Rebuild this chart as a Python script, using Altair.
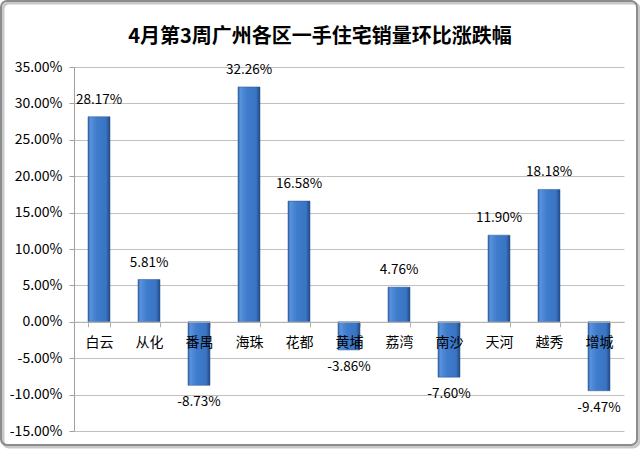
import altair as alt
import pandas as pd

districts = ["白云", "从化", "番禺", "海珠", "花都", "黄埔", "荔湾", "南沙", "天河", "越秀", "增城"]
changes = [28.17, 5.81, -8.73, 32.26, 16.58, -3.86, 4.76, -7.60, 11.90, 18.18, -9.47]
y_ticks = [-15, -10, -5, 0, 5, 10, 15, 20, 25, 30, 35]
title_text = "4月第3周广州各区一手住宅销量环比涨跌幅"

FONT = "Noto Sans CJK SC"

df = pd.DataFrame({"district": districts, "change": [v / 100 for v in changes]})

W, H = 550, 364

x_enc = alt.X(
    "district:N",
    sort=districts,
    scale=alt.Scale(paddingInner=0.56, paddingOuter=0.28),
    axis=alt.Axis(
        title=None, labelAngle=0, orient="bottom", offset=-109.2,
        domainColor="#b0b0b0", tickColor="#b0b0b0", tickBand="extent",
        tickSize=5, labelPadding=9, labelFontSize=14, labelFont=FONT,
        labelColor="#000000", zindex=1, grid=False,
    ),
)
y_enc = alt.Y(
    "change:Q",
    scale=alt.Scale(domain=[-0.15, 0.35], nice=False, zero=False),
    axis=alt.Axis(
        title=None, values=[v / 100 for v in y_ticks], tickCount=len(y_ticks) + 1,
        format=".2%",
        labelExpr="replace(datum.label, '\u2212', '-')",
        labelOverlap=False,
        grid=True, gridColor="#c0c0c0", domainColor="#a0a0a0",
        tickColor="#a0a0a0", tickSize=5, labelPadding=7,
        labelFontSize=14, labelFont=FONT, labelColor="#000000",
    ),
)

gradient = alt.Gradient(
    gradient="linear", x1=0, x2=1, y1=0, y2=0,
    stops=[
        alt.GradientStop(color="#2f62a8", offset=0),
        alt.GradientStop(color="#5a92dc", offset=0.1),
        alt.GradientStop(color="#3f7ccc", offset=0.4),
        alt.GradientStop(color="#3a74c2", offset=0.82),
        alt.GradientStop(color="#1f4a85", offset=1),
    ],
)

base = alt.Chart(df).transform_calculate(
    label="replace(format(datum.change, '.2%'), '\u2212', '-')"
)

frame_df = pd.DataFrame({"a": [0]})
shadow = alt.Chart(frame_df).mark_rect(
    fill="transparent", stroke="#c8c8c8", strokeWidth=3, cornerRadius=6
).encode(
    x=alt.value(-71), x2=alt.value(W + 15), y=alt.value(-64), y2=alt.value(H + 16)
)
frame = alt.Chart(frame_df).mark_rect(
    fill="transparent", stroke="#8c8c8c", strokeWidth=2, cornerRadius=6
).encode(
    x=alt.value(-73), x2=alt.value(W + 13), y=alt.value(-66), y2=alt.value(H + 14)
)
title = alt.Chart(pd.DataFrame({"t": [title_text]})).mark_text(
    fontSize=20, font=FONT, fontWeight="bold", color="#000000",
    baseline="middle", align="center",
).encode(x=alt.value(246), y=alt.value(-30), text="t:N")

bars = base.mark_bar(color=gradient, stroke="#2a5590", strokeWidth=0.5).encode(
    x=x_enc, y=y_enc, y2=alt.datum(0)
)

pos_labels = base.transform_filter("datum.change >= 0").mark_text(
    dy=-17, fontSize=13.5, font=FONT, color="#000000", baseline="middle"
).encode(x=alt.X("district:N", sort=districts), y="change:Q", text="label:N")

neg_labels = base.transform_filter("datum.change < 0").mark_text(
    dy=17, fontSize=13.5, font=FONT, color="#000000", baseline="middle"
).encode(x=alt.X("district:N", sort=districts), y="change:Q", text="label:N")

chart = alt.layer(shadow, frame, title, bars, pos_labels, neg_labels).properties(
    width=W,
    height=H,
    autosize=alt.AutoSizeParams(type="none"),
    padding={"left": 74, "top": 67, "right": 16, "bottom": 19},
    background="white",
).configure_view(strokeWidth=0)

chart.save("out.html", embed_options={"renderer": "svg", "actions": False})
